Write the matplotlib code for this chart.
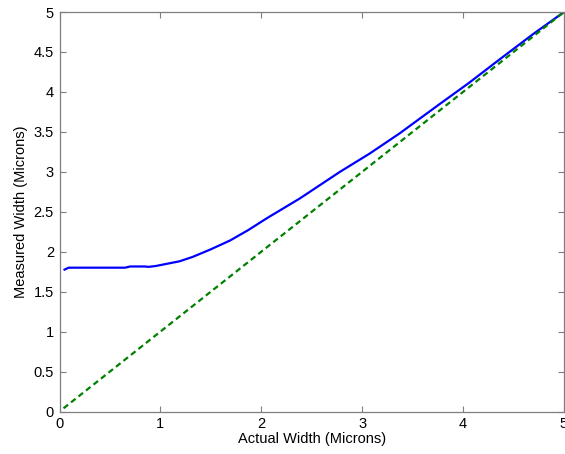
import matplotlib
matplotlib.use("Agg")
import matplotlib.pyplot as plt

plt.rcParams['font.family'] = ['Liberation Sans', 'DejaVu Sans']

# Measured width versus actual width (microns)
actual_width = [0.04, 0.09, 0.30, 0.50, 0.65, 0.70, 0.85, 0.88, 0.95, 1.05,
                1.19, 1.32, 1.50, 1.69, 1.87, 2.05, 2.38, 2.78, 3.07, 3.37,
                3.77, 4.05, 4.36, 4.69, 5.00]
measured_width = [1.77, 1.80, 1.80, 1.80, 1.80, 1.815, 1.815, 1.81, 1.82, 1.845,
                  1.88, 1.935, 2.03, 2.14, 2.27, 2.415, 2.665, 3.00, 3.225, 3.48,
                  3.85, 4.105, 4.405, 4.72, 5.00]

# Ideal response: measured equals actual
ideal_x = [0.04, 5.00]
ideal_y = [0.04, 5.00]

x_ticks = [0, 1, 2, 3, 4, 5]
y_ticks = [0, 0.5, 1, 1.5, 2, 2.5, 3, 3.5, 4, 4.5, 5]
y_tick_labels = ['0', '0.5', '1', '1.5', '2', '2.5', '3', '3.5', '4', '4.5', '5']

fig = plt.figure(figsize=(5.65, 4.54), dpi=100)
ax = fig.add_axes([59.5 / 565, (454 - 411.5) / 454, (564 - 59.5) / 565, (411.5 - 12) / 454])

ax.plot(actual_width, measured_width, color='#0000ff', linewidth=1.6, solid_capstyle='butt')
ax.plot(ideal_x, ideal_y, color='#008000', linewidth=1.6, linestyle=(0, (2.6, 1.7)))

ax.set_xlim(0, 5)
ax.set_ylim(0, 5)
ax.set_xticks(x_ticks)
ax.set_xticklabels([str(t) for t in x_ticks])
ax.set_yticks(y_ticks)
ax.set_yticklabels(y_tick_labels)

for side in ax.spines.values():
    side.set_color('#7f7f7f')
    side.set_linewidth(0.9)

ax.tick_params(direction='in', length=4, width=0.8, color='#7f7f7f',
               labelsize=10.5, labelcolor='black', top=True, right=True, pad=4)

ax.set_xlabel('Actual Width (Microns)', fontsize=10.5, labelpad=1)
ax.set_ylabel('Measured Width (Microns)', fontsize=10.5, labelpad=4)

fig.savefig('out.png', dpi=100)
